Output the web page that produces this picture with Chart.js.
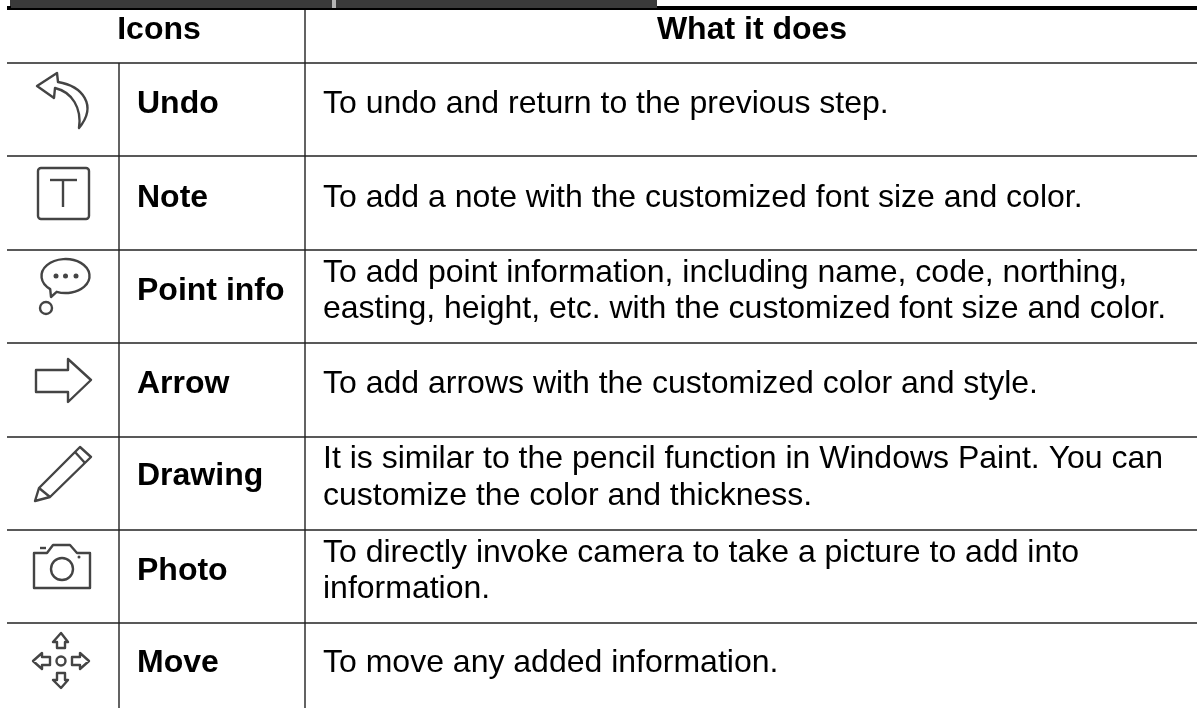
<!DOCTYPE html>
<html>
<head>
<meta charset="utf-8">
<title>Icons</title>
<script src="https://cdn.jsdelivr.net/npm/chart.js@4"></script>
<style>
  html, body { margin: 0; padding: 0; background: #fff; }
  #wrap { width: 1197px; height: 708px; }
</style>
</head>
<body>
<div id="wrap"><canvas id="chart-canvas" width="1197" height="708"></canvas></div>
<script>
// The reference is a table, so the axes are hidden and run 1:1 with the pixels.
var columnHeaders = ["Icons", "What it does"];
var rowLabels = ["Undo", "Note", "Point info", "Arrow", "Drawing", "Photo", "Move"];
var rowText = [
  ["To undo and return to the previous step."],
  ["To add a note with the customized font size and color."],
  ["To add point information, including name, code, northing,", "easting, height, etc. with the customized font size and color."],
  ["To add arrows with the customized color and style."],
  ["It is similar to the pencil function in Windows Paint. You can", "customize the color and thickness."],
  ["To directly invoke camera to take a picture to add into", "information."],
  ["To move any added information."]
];

// table layout, in pixels
var rowEdges = [63, 156, 250, 343, 437, 530, 623];
var labelBaselines = [113, 207, 300, 393, 485, 580, 672];
var textBaselines = [[113], [207], [282, 318], [393], [468, 505], [562, 598], [672]];
var LEFT = 7, RIGHT = 1197, TOP = 9, BOTTOM = 708, COL_A = 119, COL_B = 305;
var INK = "#000", RULE = "#222", ICON = "#444";
var FONT = '"Liberation Sans", Arial, sans-serif';

function rule(x1, y1, x2, y2, w, color) {
  return {
    data: [{ x: x1, y: y1 }, { x: x2, y: y2 }],
    showLine: true, borderColor: color || RULE, borderWidth: w || 1.4, pointRadius: 0, fill: false
  };
}

var datasets = rowEdges.map(function (y) { return rule(LEFT, y, RIGHT, y); });
datasets.push(rule(LEFT, TOP, RIGHT, TOP, 2, "#000"));
datasets.push(rule(657, 8, RIGHT, 8, 4, "#000"));
datasets.push(rule(COL_A, rowEdges[0], COL_A, BOTTOM));
datasets.push(rule(COL_B, TOP, COL_B, BOTTOM));

function path(c, pts, closed) {
  c.beginPath();
  pts.forEach(function (p, i) { if (i) c.lineTo(p[0], p[1]); else c.moveTo(p[0], p[1]); });
  if (closed) c.closePath();
  c.stroke();
}
function circle(c, x, y, r, filled) {
  c.beginPath();
  c.arc(x, y, r, 0, Math.PI * 2);
  if (filled) c.fill(); else c.stroke();
}

var icons = {
  Undo: function (c) {
    c.beginPath();
    c.moveTo(37, 86); c.lineTo(57, 73); c.lineTo(58, 82);
    c.bezierCurveTo(82, 86, 98, 105, 79, 128);
    c.bezierCurveTo(82, 108, 72, 92, 55, 88);
    c.lineTo(54, 98); c.closePath(); c.stroke();
  },
  Note: function (c) {
    c.beginPath();
    c.roundRect(38, 168, 51, 51, 3);
    c.stroke();
    path(c, [[50, 180], [77, 180]]);
    path(c, [[63, 180], [63, 207]]);
  },
  "Point info": function (c) {
    c.beginPath();
    c.ellipse(65.5, 276, 24, 17, 0, 0.72 * Math.PI, 0.62 * Math.PI);
    c.lineTo(51, 297); c.closePath(); c.stroke();
    circle(c, 56, 276, 2.5, true);
    circle(c, 65.5, 276, 2.5, true);
    circle(c, 76, 276, 2.5, true);
    circle(c, 46, 308, 6);
  },
  Arrow: function (c) {
    path(c, [[36, 370], [68, 370], [68, 359], [91, 380], [68, 402], [68, 392], [36, 392]], true);
  },
  Drawing: function (c) {
    path(c, [[35, 501], [39, 488], [80, 447], [91, 457], [50, 497]], true);
    path(c, [[75, 452], [85, 463]]);
    path(c, [[39, 488], [50, 497]]);
  },
  Photo: function (c) {
    c.beginPath();
    c.moveTo(47, 553); c.lineTo(53, 545); c.lineTo(70, 545); c.lineTo(77, 553);
    c.lineTo(90, 553); c.lineTo(90, 588); c.lineTo(34, 588); c.lineTo(34, 553);
    c.closePath(); c.stroke();
    path(c, [[40, 548], [46, 548]]);
    circle(c, 62, 569, 11);
    circle(c, 79, 557, 1.5, true);
  },
  Move: function (c) {
    circle(c, 61, 661, 4.5);
    path(c, [[61, 633], [68, 642], [65, 642], [65, 648], [57, 648], [57, 642], [53, 642]], true);
    path(c, [[61, 688], [68, 680], [65, 680], [65, 673], [57, 673], [57, 680], [53, 680]], true);
    path(c, [[33, 661], [42, 653], [42, 657], [50, 657], [50, 665], [42, 665], [42, 669]], true);
    path(c, [[89, 661], [80, 653], [80, 657], [72, 657], [72, 665], [80, 665], [80, 669]], true);
  }
};

var tablePlugin = {
  id: "table",
  afterDatasetsDraw: function (chart) {
    var c = chart.ctx, sx = chart.scales.x, sy = chart.scales.y;
    c.save();

    // strip of the dark toolbar cut off at the top
    c.fillStyle = "#3a3a3a";
    c.fillRect(10, 0, 647, 8);
    c.fillStyle = "#b5b5b5";
    c.fillRect(332, 0, 4, 8);
    c.fillStyle = "#000";
    c.fillRect(7, 6, 4, 3);

    c.fillStyle = INK;
    c.textBaseline = "alphabetic";
    c.textAlign = "center";
    c.font = "bold 32px " + FONT;
    c.fillText(columnHeaders[0], sx.getPixelForValue(159), sy.getPixelForValue(39));
    c.fillText(columnHeaders[1], sx.getPixelForValue(752), sy.getPixelForValue(39));

    c.textAlign = "left";
    rowLabels.forEach(function (name, i) {
      c.font = "bold 32px " + FONT;
      c.fillText(name, sx.getPixelForValue(137), sy.getPixelForValue(labelBaselines[i]));
      c.font = "32px " + FONT;
      rowText[i].forEach(function (line, j) {
        c.fillText(line, sx.getPixelForValue(323), sy.getPixelForValue(textBaselines[i][j]));
      });
    });

    c.strokeStyle = ICON;
    c.fillStyle = ICON;
    c.lineWidth = 2.4;
    c.lineJoin = "round";
    c.filter = "blur(0.6px)";
    rowLabels.forEach(function (name) { icons[name](c); });
    c.restore();
  }
};

new Chart(document.getElementById("chart-canvas").getContext("2d"), {
  type: "scatter",
  data: { datasets: datasets },
  options: {
    responsive: false,
    animation: false,
    events: [],
    layout: { padding: 0 },
    plugins: { legend: { display: false }, tooltip: { enabled: false } },
    scales: {
      x: { type: "linear", display: false, min: 0, max: 1197 },
      y: { type: "linear", display: false, min: 0, max: 708, reverse: true }
    }
  },
  plugins: [tablePlugin]
});
</script>
</body>
</html>
